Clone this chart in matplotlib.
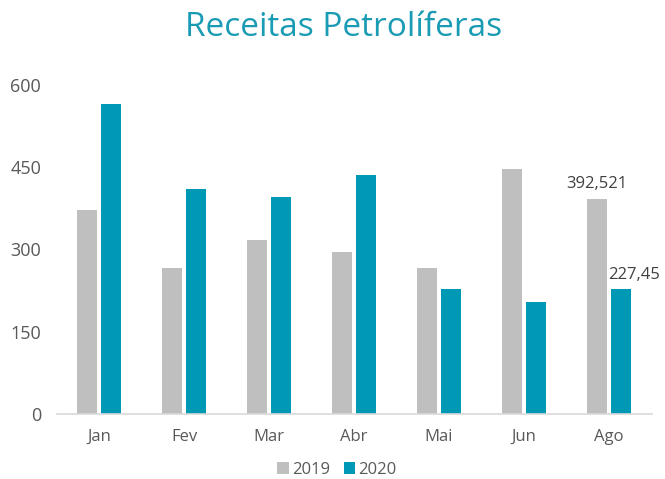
import matplotlib
matplotlib.use("Agg")
import matplotlib.pyplot as plt
import numpy as np

months = ["Jan", "Fev", "Mar", "Abr", "Mai", "Jun", "Ago"]
values_2019 = [372, 266, 317, 296, 266, 447, 392.521]
values_2020 = [565, 410, 396, 436, 228, 204, 227.45]
series_names = ["2019", "2020"]
yticks = [0, 150, 300, 450, 600]
label_2019 = "392,521"
label_2020 = "227,45"

plt.rcParams['font.family'] = ['Open Sans', 'DejaVu Sans']
text_color = "#595959"
c2019 = "#BFBFBF"
c2020 = "#0099B5"

fig = plt.figure(figsize=(6.65, 4.79), dpi=100)
ax = fig.add_axes([56.5/665, 1-414/479, (651.5-56.5)/665, (414-85)/479])

x = np.arange(len(months))
w = 0.235
off = 0.14
ax.bar(x - off, values_2019, width=w, color=c2019, label=series_names[0])
ax.bar(x + off, values_2020, width=w, color=c2020, label=series_names[1])

ax.set_xlim(-0.5, len(months) - 0.5)
ax.set_ylim(0, 600)
ax.set_yticks(yticks)
ax.set_yticklabels([str(t) for t in yticks], fontsize=13, color=text_color)
ax.set_xticks(x)
ax.set_xticklabels(months, fontsize=12, color=text_color)
ax.tick_params(axis='y', length=0, pad=11)
ax.tick_params(axis='x', length=0, pad=11)
for s in ["top", "right", "left"]:
    ax.spines[s].set_visible(False)
ax.spines["bottom"].set_color("#D9D9D9")
ax.spines["bottom"].set_linewidth(1.2)

ax.text(x[-1] - off, values_2019[-1] + 12, label_2019, ha='center', va='bottom',
        fontsize=12, color="#404040")
ax.text(x[-1] + off + 0.16, values_2020[-1] + 12, label_2020, ha='center', va='bottom',
        fontsize=12, color="#404040")

fig.text(343.5/665, 1-28/479, "Receitas Petrolíferas", ha='center', va='center',
         fontsize=24, color="#1A9BB4")

leg = fig.legend(loc='center', bbox_to_anchor=(337/665, 1-470/479), ncol=2,
                 frameon=False, fontsize=12, handlelength=0.7, handleheight=0.7,
                 handletextpad=0.2, columnspacing=0.8)
for t in leg.get_texts():
    t.set_color(text_color)

fig.savefig("out.png", dpi=100)
